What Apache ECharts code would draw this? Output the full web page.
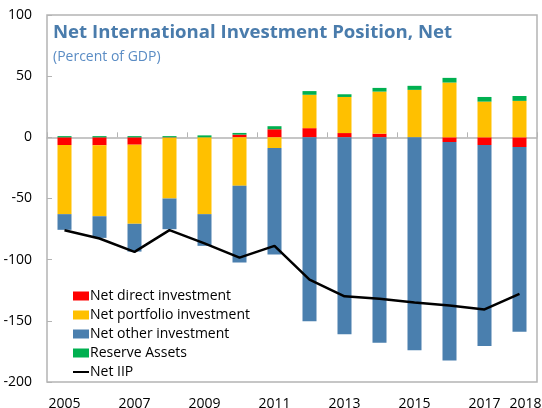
<!DOCTYPE html>
<html>
<head>
<meta charset="utf-8">
<script src="https://cdn.jsdelivr.net/npm/echarts@6/dist/echarts.min.js"></script>
<style>
  html, body { margin: 0; padding: 0; background: #fff; }
  #main { width: 542px; height: 408px; }
</style>
</head>
<body>
<div id="main"></div>
<script>
  var years = ['2005','2006','2007','2008','2009','2010','2011','2012','2013','2014','2015','2016','2017','2018'];
  var shownYears = ['2005','2007','2009','2011','2013','2015','2017','2018'];
  var directInv = [-6.3, -6.5, -6, -0.3, 0, 2.2, 6.6, 7.5, 3.5, 3, 0, -3.8, -6.3, -7.9];
  var portfolioInv = [-56.5, -58, -64.7, -49.7, -62.8, -39.6, -8.7, 27.3, 29.5, 34.4, 38.8, 44.8, 29.2, 29.8];
  var otherInv = [-12.8, -17.7, -22.7, -25.1, -25.9, -62.8, -87.1, -150.3, -161, -168, -174, -178.7, -164.2, -151];
  var reserveAssets = [1, 1, 1, 1, 1.6, 1.4, 2.5, 3, 2.2, 3, 3.3, 3.8, 3.8, 4];
  var netIIP = [-75.9, -82.7, -93.6, -75.9, -86.7, -98.3, -88.7, -116.3, -130, -132, -135, -137.5, -140.7, -128];

  var gridColor = '#b4b4b4';
  var chart = echarts.init(document.getElementById('main'));

  // 2018 label sits a bit to the right of its bar in the original
  var xLabels = years.map(function (y) {
    if (y === '2018') return { value: y, textStyle: { padding: [0, 0, 0, 12] } };
    return y;
  });

  chart.setOption({
    animation: false,
    textStyle: { fontFamily: 'Open Sans' },
    title: {
      text: 'Net International Investment Position, Net',
      subtext: '(Percent of GDP)',
      left: 53,
      top: 23,
      itemGap: 8,
      padding: 0,
      textStyle: { fontFamily: 'Open Sans', fontSize: 18.6, fontWeight: 'bold', color: '#4a7cac' },
      subtextStyle: { fontFamily: 'Open Sans', fontSize: 14, color: '#5a8cc4' }
    },
    legend: {
      orient: 'vertical',
      left: 73,
      top: 289,
      padding: 0,
      itemWidth: 16,
      itemHeight: 9,
      itemGap: 5,
      textStyle: { fontSize: 14, color: '#000', padding: [0, 0, 0, -4] },
      data: [
        { name: 'Net direct investment', icon: 'rect' },
        { name: 'Net portfolio investment', icon: 'rect' },
        { name: 'Net other investment', icon: 'rect' },
        { name: 'Reserve Assets', icon: 'rect' },
        { name: 'Net IIP', icon: 'path://M0,0L16,0L16,2L0,2Z' }
      ]
    },
    grid: {
      left: 47, right: 5, top: 15, bottom: 26,
      show: true, borderColor: gridColor, borderWidth: 1.5,
      containLabel: false,
      outerBoundsMode: 'none'
    },
    xAxis: [
      {
        // axis line with ticks on the zero line
        type: 'category',
        data: years,
        position: 'top',
        axisLine: { onZero: true, lineStyle: { color: gridColor, width: 1.5 } },
        axisTick: { show: true, inside: false, length: 5, lineStyle: { color: gridColor } },
        axisLabel: { show: false }
      },
      {
        // year labels under the frame
        type: 'category',
        data: xLabels,
        position: 'bottom',
        axisLine: { show: false, onZero: false },
        axisTick: { show: false },
        axisLabel: {
          interval: 0,
          margin: 15,
          fontSize: 14,
          color: '#000',
          formatter: function (v) { return shownYears.indexOf(v) >= 0 ? v : ''; }
        }
      }
    ],
    yAxis: {
      type: 'value',
      min: -200,
      max: 100,
      interval: 50,
      axisLine: { show: false },
      axisTick: { show: true, inside: true, length: 5, lineStyle: { color: gridColor } },
      splitLine: { show: false },
      axisLabel: { fontSize: 14, color: '#000', margin: 15 }
    },
    series: [
      { name: 'Net direct investment', type: 'bar', stack: 'iip', barWidth: 14, itemStyle: { color: '#ff0000' }, data: directInv },
      { name: 'Net portfolio investment', type: 'bar', stack: 'iip', barWidth: 14, itemStyle: { color: '#ffc000' }, data: portfolioInv },
      { name: 'Net other investment', type: 'bar', stack: 'iip', barWidth: 14, itemStyle: { color: '#4a7fae' }, data: otherInv },
      { name: 'Reserve Assets', type: 'bar', stack: 'iip', barWidth: 14, itemStyle: { color: '#00b050' }, data: reserveAssets },
      {
        name: 'Net IIP', type: 'line', data: netIIP, symbol: 'none', z: 5,
        itemStyle: { color: '#000' },
        lineStyle: { color: '#000', width: 2.5 }
      }
    ]
  });
</script>
</body>
</html>
